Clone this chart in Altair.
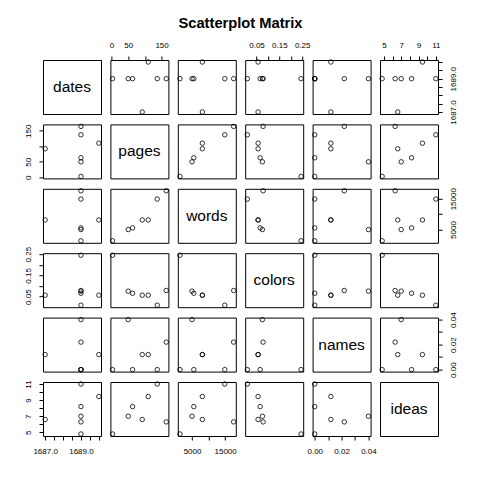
import altair as alt
import pandas as pd

# ---- data ----
variables = ["dates", "pages", "words", "colors", "names", "ideas"]
dates = [1689, 1689, 1689, 1687, 1690, 1689, 1689]
pages = [3, 50, 63, 92, 110, 137, 164]
words = [1350, 5000, 5540, 8120, 8120, 14900, 17580]
colors = [0.245, 0.076, 0.066, 0.057, 0.057, 0.010, 0.079]
names = [0.0, 0.040, 0.0, 0.012, 0.012, 0.0, 0.022]
ideas = [4.8, 7.0, 8.2, 6.6, 9.45, 11.0, 6.3]

# tick positions and the labels that R kept
dates_ticks = [1687, 1687.5, 1688, 1688.5, 1689, 1689.5, 1690]
dates_labels = ["1687.0", "1689.0"]
pages_ticks = [0, 50, 100, 150]
pages_labels = ["0", "50", "150"]
words_ticks = [5000, 10000, 15000]
words_labels = ["5000", "15000"]
colors_ticks = [0.05, 0.10, 0.15, 0.20, 0.25]
colors_labels = ["0.05", "0.15", "0.25"]
names_ticks = [0.0, 0.01, 0.02, 0.03, 0.04]
names_labels = ["0.00", "0.02", "0.04"]
ideas_ticks = [5, 6, 7, 8, 9, 10, 11]
ideas_labels = ["5", "7", "9", "11"]

df = pd.DataFrame({"dates": dates, "pages": pages, "words": words,
                   "colors": colors, "names": names, "ideas": ideas})

tick_info = {
    "dates": (dates_ticks, dates_labels, ".1f"),
    "pages": (pages_ticks, pages_labels, "d"),
    "words": (words_ticks, words_labels, "d"),
    "colors": (colors_ticks, colors_labels, ".2f"),
    "names": (names_ticks, names_labels, ".2f"),
    "ideas": (ideas_ticks, ideas_labels, "d"),
}

FONT = "Liberation Sans"
PW, PH = 58, 54


def domain(v):
    lo, hi = df[v].min(), df[v].max()
    r = hi - lo
    return [lo - 0.04 * r, hi + 0.04 * r]


def make_axis(v, orient):
    ticks, labels, fmt = tick_info[v]
    f = "format(datum.value, '%s')" % fmt
    cond = " || ".join("%s == '%s'" % (f, s) for s in labels)
    expr = "(%s) ? %s : ''" % (cond, f)
    kw = dict(orient=orient, values=ticks, labelExpr=expr, title=None,
              labelFont=FONT, labelFontSize=8, labelColor="black",
              tickColor="black", tickSize=4, tickWidth=1, labelPadding=7,
              domain=False, grid=False, labelOverlap=False, labelFlush=False)
    if orient in ("left", "right"):
        kw["labelAngle"] = 270
        kw["labelAlign"] = "center"
        kw["labelBaseline"] = "bottom" if orient == "left" else "top"
    else:
        kw["labelAngle"] = 0
        kw["labelAlign"] = "center"
        kw["labelBaseline"] = "bottom" if orient == "top" else "top"
    return alt.Axis(**kw)


panels = []
n = len(variables)
for i, yv in enumerate(variables):
    for j, xv in enumerate(variables):
        if i == j:
            p = alt.Chart(pd.DataFrame({"label": [xv]})).mark_text(
                font=FONT, fontSize=15.5, color="black", align="center", baseline="middle"
            ).encode(text="label:N", x=alt.value(PW / 2), y=alt.value(PH / 2))
        else:
            xaxis = None
            yaxis = None
            if i == 0 and j % 2 == 1:
                xaxis = make_axis(xv, "top")
            if i == n - 1 and j % 2 == 0:
                xaxis = make_axis(xv, "bottom")
            if j == 0 and i % 2 == 1:
                yaxis = make_axis(yv, "left")
            if j == n - 1 and i % 2 == 0:
                yaxis = make_axis(yv, "right")
            p = alt.Chart(df).mark_point(
                shape="circle", filled=False, size=20, color="black", strokeWidth=0.8, opacity=1
            ).encode(
                x=alt.X(xv, type="quantitative",
                        scale=alt.Scale(domain=domain(xv), nice=False, zero=False),
                        axis=xaxis),
                y=alt.Y(yv, type="quantitative",
                        scale=alt.Scale(domain=domain(yv), nice=False, zero=False),
                        axis=yaxis),
            )
        panels.append(p.properties(width=PW, height=PH))

chart = alt.concat(*panels, columns=6, spacing={"row": 10.4, "column": 9.4}, bounds="flush").properties(
    title=alt.Title("Scatterplot Matrix", font=FONT, fontSize=14.7, fontWeight="bold",
                    anchor="middle", color="black", offset=10),
    padding={"left": 23, "top": 15, "right": 5, "bottom": 5},
    background="white",
).configure_view(stroke="black", strokeWidth=1)

chart.save("out.html", embed_options={"renderer": "svg", "actions": False})
